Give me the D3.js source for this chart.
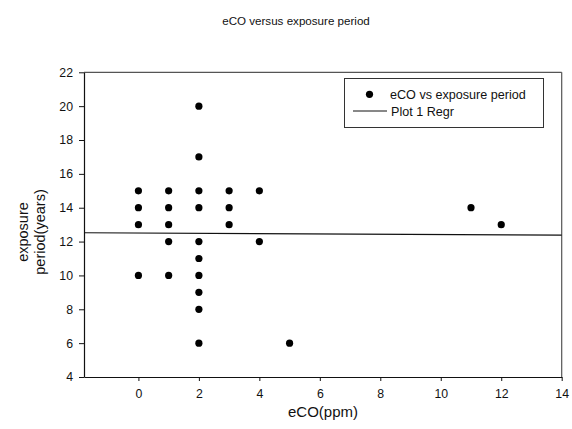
<!DOCTYPE html>
<html><head><meta charset="utf-8">
<script src="https://cdn.jsdelivr.net/npm/d3@7"></script>
<style>body{margin:0;background:#fff}svg{display:block}text{font-family:"Liberation Sans",Arial,sans-serif;fill:#111}</style>
</head><body><svg id="c" width="572" height="429"></svg>
<script>
const title = "eCO versus exposure period";
const xLabel = "eCO(ppm)";
const yLabelLines = ["exposure", "period(years)"];
const seriesName = "eCO vs exposure period";
const regrName = "Plot 1 Regr";
const eco =      [0,0,0,0, 1,1,1,1,1, 2,2,2,2,2,2,2,2,2,2, 3,3,3, 4,4, 5, 11, 12];
const exposure = [15,14,13,10, 15,14,13,12,10, 20,17,15,14,12,11,10,9,8,6, 15,14,13, 15,12, 6, 14, 13];
const regrX = [-1.8, 14];
const regrY = [12.52, 12.38];
const xTicks = [0,2,4,6,8,10,12,14];
const yTicks = [4,6,8,10,12,14,16,18,20,22];

const svg = d3.select("#c");
const L=84, R=561.7, T=72.3, B=377;
const x = d3.scaleLinear().domain([-1.8,14]).range([L,R]);
const y = d3.scaleLinear().domain([4,22]).range([B,T]);

svg.append("text").attr("x",296).attr("y",24.5).attr("text-anchor","middle").style("font-size","11.6px").text(title);

// frame top/right
svg.append("line").attr("x1",L).attr("x2",R).attr("y1",T).attr("y2",T).attr("stroke","#555").attr("stroke-width",1.2);
svg.append("line").attr("x1",R).attr("x2",R).attr("y1",T).attr("y2",B).attr("stroke","#555").attr("stroke-width",1.2);

const xa = svg.append("g").attr("transform",`translate(0,${B})`)
  .call(d3.axisBottom(x).tickValues(xTicks).tickSize(4).tickPadding(8).tickFormat(d3.format("d")).tickSizeOuter(0));
const ya = svg.append("g").attr("transform",`translate(${L},0)`)
  .call(d3.axisLeft(y).tickValues(yTicks).tickSize(5).tickPadding(6).tickFormat(d3.format("d")).tickSizeOuter(0));
[xa,ya].forEach(a=>{a.select(".domain").attr("stroke","#111").attr("stroke-width",1.2);
  a.selectAll(".tick line").attr("stroke","#111");
  a.selectAll("text").style("font-size","12.3px").style("font-family","'Liberation Sans',Arial,sans-serif").attr("fill","#222");});

// regression
svg.append("path").datum(regrX.map((v,i)=>[v,regrY[i]]))
  .attr("d",d3.line().x(d=>x(d[0])).y(d=>y(d[1]))).attr("stroke","#111").attr("fill","none").attr("stroke-width",1.1);

svg.append("g").selectAll("circle").data(eco.map((v,i)=>[v,exposure[i]])).join("circle")
  .attr("cx",d=>x(d[0])).attr("cy",d=>y(d[1])).attr("r",3.6).attr("fill","#000");

// legend
svg.append("rect").attr("x",344.5).attr("y",78.5).attr("width",199).attr("height",49).attr("fill","#fff").attr("stroke","#333").attr("stroke-width",1);
svg.append("circle").attr("cx",369.5).attr("cy",94.3).attr("r",3.6).attr("fill","#000");
svg.append("text").attr("x",390).attr("y",98.8).style("font-size","12.6px").text(seriesName);
svg.append("line").attr("x1",353).attr("x2",387).attr("y1",111).attr("y2",111).attr("stroke","#111");
svg.append("text").attr("x",391).attr("y",115.5).style("font-size","12.6px").text(regrName);

svg.append("text").attr("x",323).attr("y",417).attr("text-anchor","middle").style("font-size","15px").attr("fill","#222").text(xLabel);
const yl = svg.append("text").attr("transform","translate(0,232) rotate(-90)").attr("text-anchor","middle").style("font-size","14.5px").attr("fill","#222");
yl.selectAll("tspan").data(yLabelLines).join("tspan").attr("x",0).attr("y",(d,i)=>28+i*17).text(d=>d);
</script></body></html>
